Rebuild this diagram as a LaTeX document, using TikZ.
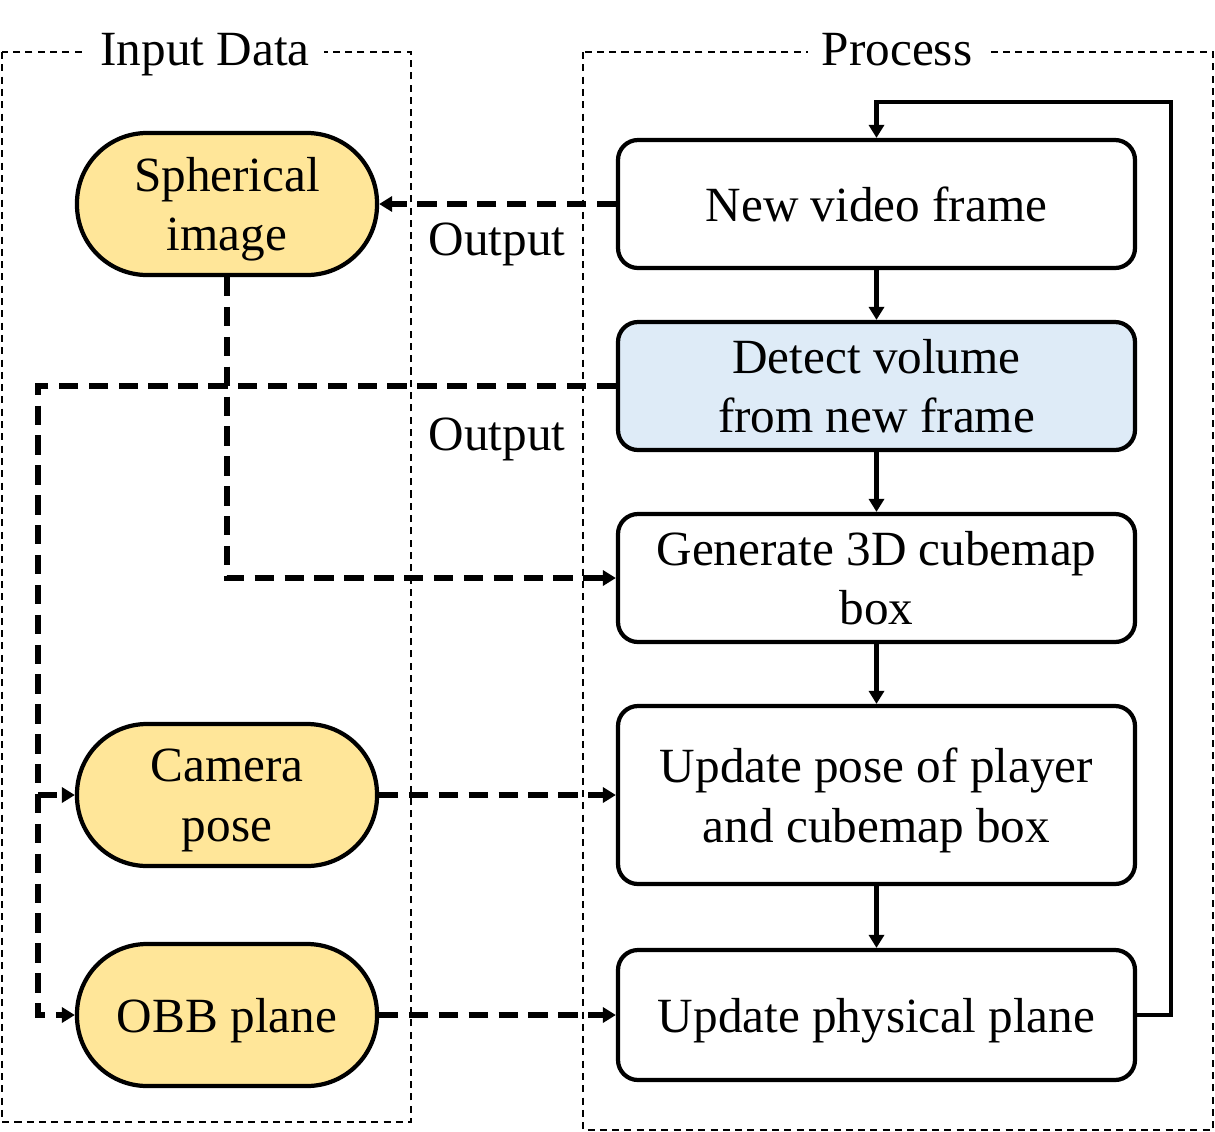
\documentclass[tikz,border=0pt]{standalone}
\usepackage{fontspec}
\setmainfont{Liberation Serif}
\usepackage{tikz}
\usetikzlibrary{arrows.meta}

\begin{document}
\begin{tikzpicture}[ y=-1cm, >={Triangle[length=1.3mm, width=1.5mm]},
    font=\fontsize{14}{17}\selectfont,
    box/.style={draw, line width=1.2pt, align=center, inner sep=1pt, text depth=0pt},
    data/.style={box, fill=inputfill, rounded corners=7mm, minimum width=3cm, minimum height=1.42cm},
    proc/.style={box, fill=white, rounded corners=2mm, minimum width=5.17cm},
    flow/.style={->, line width=1.2pt},
    dataflow/.style={->, line width=1.5pt, dash pattern=on 5.5pt off 3pt},
    group/.style={draw, line width=0.5pt, dash pattern=on 2pt off 1.5pt}
  ]
    \definecolor{inputfill}{HTML}{FFE699}
    \definecolor{detectfill}{HTML}{DEEBF7}
    \useasboundingbox (0,0) rectangle (12.15,11.31);
    \def\xl{2.27}
    \def\xr{8.765}

    % Groups
    \draw[group] (0.02,0.52) rectangle (4.11,11.22);
    \draw[group] (5.83,0.52) rectangle (12.13,11.30);
    \node[fill=white, inner sep=4pt, anchor=base] (tin) at (2.05,0.65) {Input Data};
    \node[fill=white, inner sep=4pt, anchor=base] (tproc) at (8.97,0.65) {Process};

    % --- Input data (yellow) ---
    \node[data] (sph) at (\xl,2.04) {Spherical\\image};
    \node[data] (cam) at (\xl,7.95) {Camera\\pose};
    \node[data] (obb) at (\xl,10.15) {OBB plane};

    % --- Process steps ---
    \node[proc, minimum height=1.28cm] (frame) at (\xr,2.04) {New video frame};
    \node[proc, minimum height=1.28cm, fill=detectfill] (det) at (\xr,3.86) {Detect volume\\from new frame};
    \node[proc, minimum height=1.28cm] (gen) at (\xr,5.78) {Generate 3D cubemap\\box};
    \node[proc, minimum height=1.78cm] (upd) at (\xr,7.95) {Update pose of player\\and cubemap box};
    \node[proc, minimum height=1.30cm] (phy) at (\xr,10.15) {Update physical plane};

    \draw[flow] (frame) -- (det);
    \draw[flow] (det) -- (gen);
    \draw[flow] (gen) -- (upd);
    \draw[flow] (upd) -- (phy);
    \coordinate (loop) at (11.71,1.02);
    \draw[flow, line width=1.4pt] (phy.east) -| (loop) -| (frame.north);

    % --- Data links (dashed) ---
    \coordinate (bus) at (0.38,3.84);
    \draw[dataflow] (frame.west) -- (sph.east);
    \draw[dataflow] (sph.south) |- (gen.west);
    \draw[dataflow] (det.west) -| (bus |- obb.west) -- (obb.west);
    \draw[dataflow] (bus |- cam.west) -- (cam.west);
    \draw[dataflow] (cam.east) -- (upd.west);
    \draw[dataflow] (obb.east) -- (phy.west);

    % Labels
    \node (out1) at (4.97,2.44) {Output};
    \node (out2) at (4.97,4.39) {Output};
  \end{tikzpicture}
\end{document}
